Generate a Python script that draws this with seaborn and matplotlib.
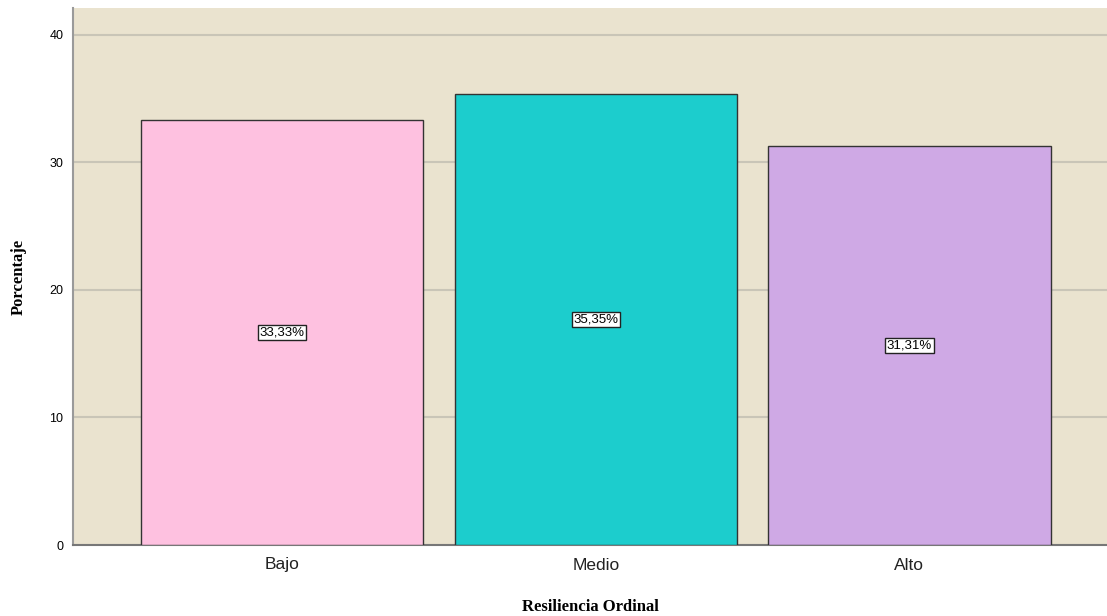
import pandas as pd
import matplotlib
matplotlib.use('Agg')
import matplotlib.pyplot as plt
import seaborn as sns

categorias = ['Bajo', 'Medio', 'Alto']
porcentajes = [33.33, 35.35, 31.31]
etiquetas = ['33,33%', '35,35%', '31,31%']
colores = ['#FEC1E0', '#1CCDCD', '#CFA9E5']
yticks = [0, 10, 20, 30, 40]

df = pd.DataFrame({'Resiliencia': categorias, 'Porcentaje': porcentajes})

sns.set_style('white')
plt.rcParams['font.family'] = ['Liberation Sans', 'DejaVu Sans']

fig = plt.figure(figsize=(11.07, 6.16), dpi=100)
ax = fig.add_axes([73 / 1107, 1 - 545 / 616, 1 - 73 / 1107, (545 - 8) / 616])
ax.set_facecolor('#EAE3CF')

sns.barplot(data=df, x='Resiliencia', y='Porcentaje', hue='Resiliencia',
            palette=colores, saturation=1, width=0.9, edgecolor='#333333',
            linewidth=1, legend=False, ax=ax, zorder=3)

for i, (v, t) in enumerate(zip(porcentajes, etiquetas)):
    ax.text(i, v / 2, t, ha='center', va='center', fontsize=9.5, color='black',
            zorder=5,
            bbox=dict(boxstyle='square,pad=0.12', facecolor='white',
                      edgecolor='#222222', linewidth=1))

ax.set_xlim(-0.667, 2.63)
ax.set_ylim(0, 42.1)
ax.set_yticks(yticks)
ax.tick_params(axis='y', labelsize=9, length=0, pad=7, labelcolor='black')
ax.tick_params(axis='x', labelsize=12.5, length=0, pad=9, labelcolor='#222222')
ax.grid(axis='y', color='#C9C5B7', linewidth=1.5, zorder=1)
ax.set_axisbelow(True)

for s in ['top', 'right']:
    ax.spines[s].set_visible(False)
ax.spines['left'].set_color('#9A9A9A')
ax.spines['left'].set_linewidth(1.5)
ax.spines['bottom'].set_color('#777777')
ax.spines['bottom'].set_linewidth(1.5)

ax.set_xlabel('Resiliencia Ordinal', family='Liberation Serif', fontweight='bold',
              fontsize=12, labelpad=19, color='black')
ax.set_ylabel('Porcentaje', family='Liberation Serif', fontweight='bold',
              fontsize=12, labelpad=16, color='black')

fig.savefig('out.png', dpi=100)
